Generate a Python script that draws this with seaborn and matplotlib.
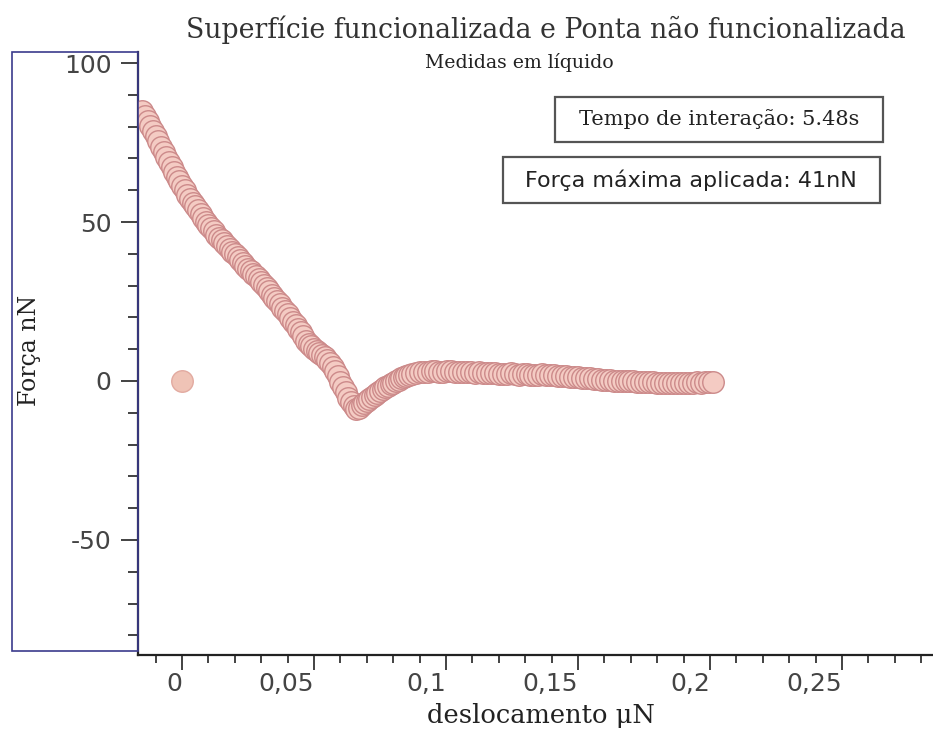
import matplotlib
matplotlib.use("Agg")
import matplotlib.pyplot as plt
from matplotlib.patches import Rectangle
from matplotlib.ticker import MultipleLocator, FixedLocator
import seaborn as sns
import pandas as pd

# ---- data ----
desloc = [-0.015, -0.014, -0.013, -0.012, -0.011, -0.010, -0.009, -0.008, -0.007, -0.006,
          -0.005, -0.004, -0.003, -0.002, -0.001, 0.000, 0.001, 0.002, 0.003, 0.004,
          0.005, 0.006, 0.007, 0.008, 0.009, 0.010, 0.011, 0.012, 0.013, 0.014,
          0.015, 0.016, 0.017, 0.018, 0.019, 0.020, 0.021, 0.022, 0.023, 0.024,
          0.025, 0.026, 0.027, 0.028, 0.029, 0.030, 0.031, 0.032, 0.033, 0.034,
          0.035, 0.036, 0.037, 0.038, 0.039, 0.040, 0.041, 0.042, 0.043, 0.044,
          0.045, 0.046, 0.047, 0.048, 0.049, 0.050, 0.051, 0.052, 0.053, 0.054,
          0.055, 0.056, 0.057, 0.058, 0.059, 0.060, 0.061, 0.062, 0.063, 0.064,
          0.065, 0.066, 0.067, 0.068, 0.069, 0.070, 0.071, 0.072, 0.073, 0.074,
          0.075, 0.076, 0.077, 0.078, 0.079, 0.080, 0.081, 0.082, 0.083, 0.084,
          0.085, 0.086, 0.087,
          0.0885, 0.0900, 0.0915, 0.0930, 0.0945, 0.0960, 0.0975, 0.0990, 0.1005, 0.1020,
          0.1035, 0.1050, 0.1065, 0.1080, 0.1095, 0.1110, 0.1125, 0.1140, 0.1155, 0.1170,
          0.1185, 0.1200, 0.1215, 0.1230, 0.1245, 0.1260, 0.1275, 0.1290, 0.1305, 0.1320,
          0.1335, 0.1350, 0.1365, 0.1380, 0.1395, 0.1410, 0.1425, 0.1440, 0.1455, 0.1470,
          0.1485, 0.1500, 0.1515, 0.1530, 0.1545, 0.1560, 0.1575, 0.1590, 0.1605, 0.1620,
          0.1635, 0.1650, 0.1665, 0.1680, 0.1695, 0.1710, 0.1725, 0.1740, 0.1755, 0.1770,
          0.1785, 0.1800, 0.1815, 0.1830, 0.1845, 0.1860, 0.1875, 0.1890, 0.1905, 0.1920,
          0.1935, 0.1950, 0.1965, 0.1980, 0.1995, 0.2010]
forca = [85.0, 83.5, 81.8, 80.2, 78.6, 77.0, 75.4, 73.6, 72.1, 70.4,
         68.9, 67.2, 65.8, 64.1, 62.8, 61.3, 60.0, 58.6, 57.4, 56.1,
         55.0, 53.7, 52.5, 51.2, 50.1, 49.0, 48.0, 47.1, 46.0, 45.1,
         44.3, 43.4, 42.5, 41.6, 40.7, 39.9, 39.0, 38.1, 37.1, 36.2,
         35.3, 34.6, 33.7, 32.9, 32.0, 31.2, 30.2, 29.3, 28.2, 27.2,
         26.1, 25.2, 24.1, 23.1, 22.0, 21.0, 19.8, 18.7, 17.6, 16.4,
         15.3, 14.3, 12.6, 11.7, 10.9, 10.2, 9.5, 8.9, 8.2, 7.5,
         6.7, 5.7, 4.4, 3.0, 1.5, -0.2, -1.9, -3.6, -5.2, -6.6,
         -7.9, -8.8, -8.4, -7.7, -7.0, -6.3, -5.6, -4.9, -4.3, -3.7,
         -3.1, -2.5, -2.0, -1.5, -1.0, -0.5, 0.0, 0.4, 0.8, 1.2,
         1.6, 1.9, 2.2,
         2.5, 2.7, 2.8, 2.9, 3.0, 3.0, 2.9, 2.9, 3.0, 3.0,
         2.9, 2.8, 2.8, 2.9, 2.7, 2.6, 2.7, 2.5, 2.4, 2.5,
         2.6, 2.3, 2.2, 2.3, 2.4, 2.2, 2.0, 2.1, 2.1, 2.0,
         1.9, 2.0, 2.1, 1.8, 1.9, 1.8, 1.6, 1.5, 1.6, 1.4,
         1.3, 1.2, 1.0, 0.9, 0.8, 0.6, 0.5, 0.4, 0.3, 0.2,
         0.1, 0.0, 0.0, -0.1, 0.0, -0.1, -0.2, -0.3, -0.2, -0.3,
         -0.4, -0.5, -0.6, -0.5, -0.6, -0.7, -0.6, -0.6, -0.5, -0.6,
         -0.5, -0.4, -0.5, -0.4, -0.3, -0.3]
ponto_x = [0.0]
ponto_y = [0.0]

x_ticks = [0.0, 0.05, 0.1, 0.15, 0.2, 0.25]
x_ticklabels = ["0", "0,05", "0,1", "0,15", "0,2", "0,25"]
y_ticks = [-50, 0, 50, 100]
y_ticklabels = ["-50", "0", "50", "100"]

titulo = "Superfície funcionalizada e Ponta não funcionalizada"
subtitulo = "Medidas em líquido"
caixa1 = "Tempo de interação: 5.48s"
caixa2 = "Força máxima aplicada: 41nN"

# ---- figure ----
sns.set_theme(style="ticks")
plt.rcParams['font.family'] = ['DejaVu Sans']

W, H = 933, 733
fig = plt.figure(figsize=(W / 100, H / 100), dpi=100)
fig.patch.set_facecolor("white")

def fx(px):
    return px / W

def fy(py):
    return 1 - py / H

ax = fig.add_axes([fx(138), fy(655), fx(933) - fx(138), fy(52) - fy(655)])
ax.set_facecolor("white")

df = pd.DataFrame({"x": desloc, "y": forca})
sns.scatterplot(data=df, x="x", y="y", ax=ax, s=240, color="#f4cbc3",
                edgecolor="#cc8a8a", linewidth=1.0, zorder=3, legend=False)
sns.scatterplot(x=ponto_x, y=ponto_y, ax=ax, s=240, color="#efc3b6",
                edgecolor="#e2aaa0", linewidth=1.0, zorder=3, legend=False)

ax.set_xlim(-0.0167, 0.2845)
ax.set_ylim(-86.2, 103.5)

for s in ["top", "right"]:
    ax.spines[s].set_visible(False)
for s in ["left", "bottom"]:
    ax.spines[s].set_color("#222222")
    ax.spines[s].set_linewidth(1.6)

ax.xaxis.set_major_locator(FixedLocator(x_ticks))
ax.set_xticklabels(x_ticklabels)
ax.xaxis.set_minor_locator(MultipleLocator(0.01))
ax.yaxis.set_major_locator(FixedLocator(y_ticks))
ax.set_yticklabels(y_ticklabels)
ax.yaxis.set_minor_locator(MultipleLocator(10))

ax.tick_params(axis="y", which="major", length=12, width=1.2, color="#222222",
               labelsize=18, labelcolor="#444444", pad=7, direction="out")
ax.tick_params(axis="y", which="minor", length=7, width=1.2, color="#222222",
               direction="out")
ax.tick_params(axis="x", which="major", length=11, width=1.2, color="#222222",
               labelsize=18, labelcolor="#444444", pad=1, direction="out")
ax.tick_params(axis="x", which="minor", length=6, width=1.2, color="#222222",
               direction="out")
for lbl in ax.get_xticklabels():
    lbl.set_horizontalalignment("right")

ax.set_xlabel("")
ax.set_ylabel("")

# blue frame around the y-axis label area
fig.add_artist(Rectangle((fx(12), fy(651)), fx(138) - fx(12), fy(52) - fy(651),
                         transform=fig.transFigure, fill=False,
                         edgecolor="#3b3b8c", linewidth=1.2))

serif = ['DejaVu Serif']
fig.text(fx(546), fy(30), titulo, ha="center", va="center", fontsize=19.25,
         color="#333333", family=serif)
fig.text(fx(519), fy(62), subtitulo, ha="center", va="center", fontsize=13.6,
         color="#222222", family=serif)
fig.text(fx(541), fy(716), "deslocamento μN", ha="center", va="center",
         fontsize=18.5, color="#222222", family=serif)
fig.text(fx(30), fy(350), "Força nN", ha="center", va="center", rotation=90,
         fontsize=17, color="#222222", family=serif)

# annotation boxes
fig.add_artist(Rectangle((fx(555), fy(142)), fx(883) - fx(555), fy(97) - fy(142),
                         transform=fig.transFigure, facecolor="white",
                         edgecolor="#555555", linewidth=1.6))
fig.text(fx(719), fy(119), caixa1, ha="center", va="center", fontsize=15,
         color="#222222", family=serif)
fig.add_artist(Rectangle((fx(503), fy(203)), fx(880) - fx(503), fy(157) - fy(203),
                         transform=fig.transFigure, facecolor="white",
                         edgecolor="#555555", linewidth=1.6))
fig.text(fx(691), fy(180), caixa2, ha="center", va="center", fontsize=16,
         color="#222222", family=['DejaVu Sans'])

fig.savefig("out.png", dpi=100, facecolor="white")
